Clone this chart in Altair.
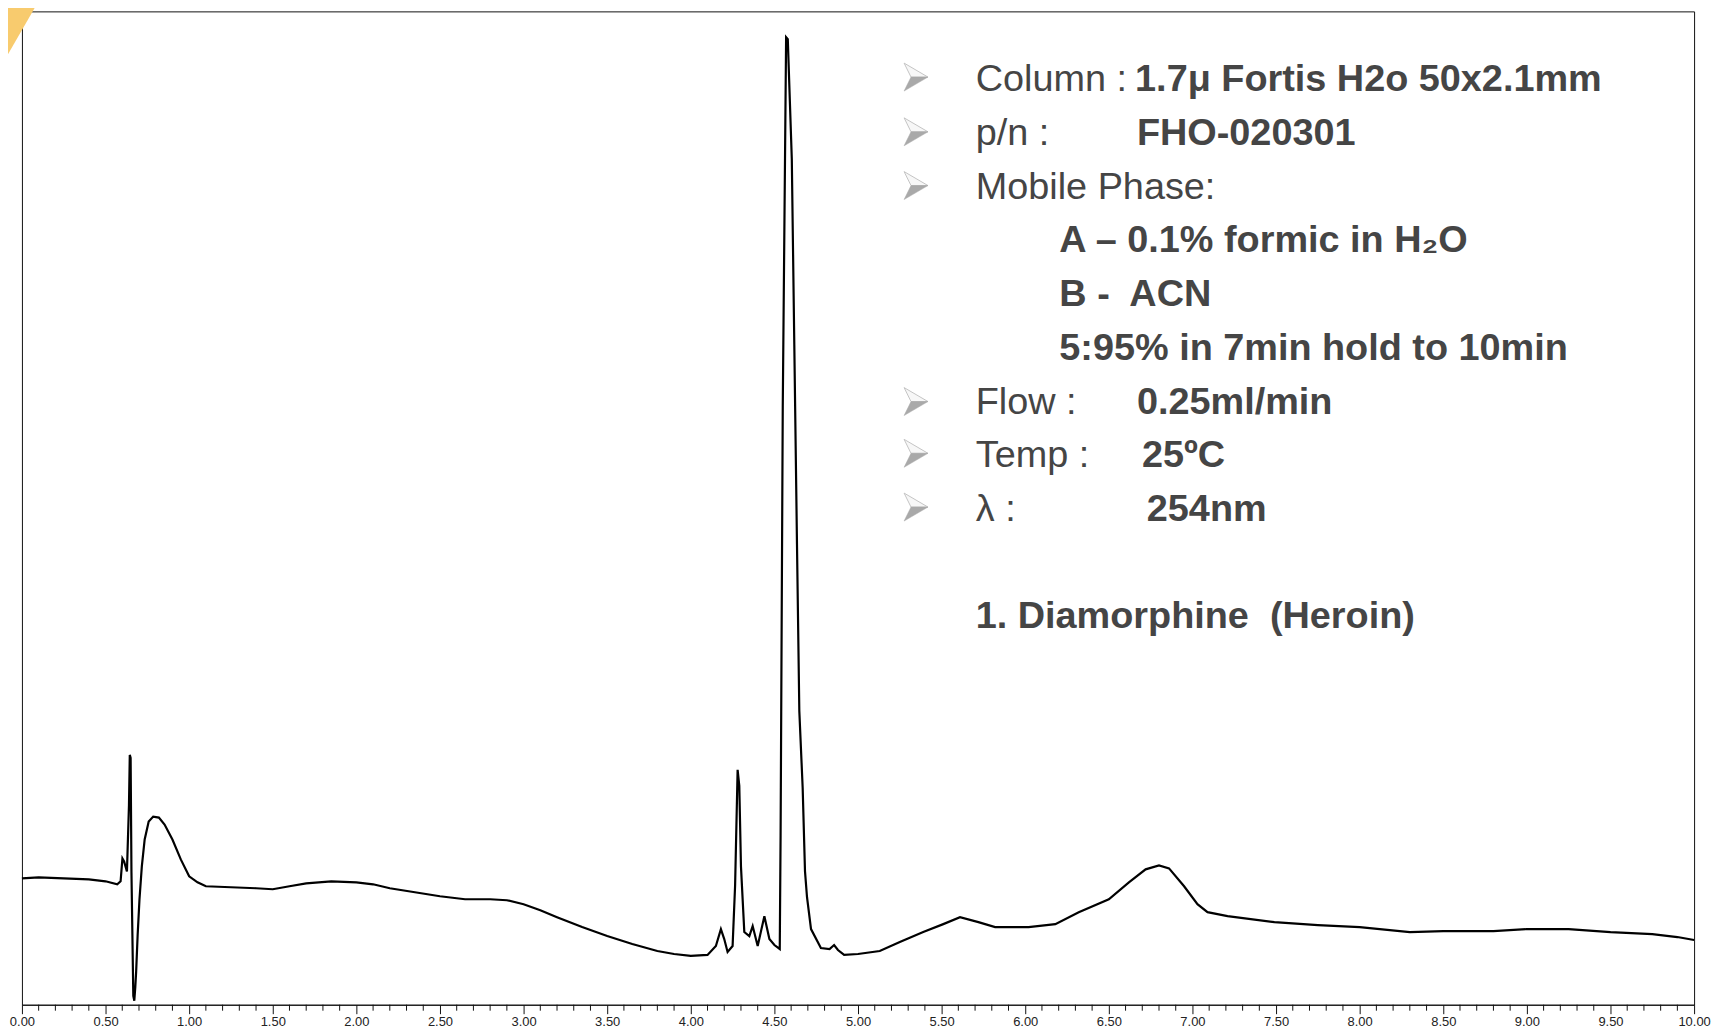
import altair as alt
import pandas as pd

# ---- chromatogram trace (time in min, detector signal in arbitrary units) ----
time_min = [
    0.00, 0.10, 0.25, 0.40, 0.50, 0.570, 0.590, 0.601, 0.611, 0.628, 0.640, 0.645, 0.650, 0.655,
    0.666, 0.672, 0.678, 0.683, 0.692, 0.703, 0.717, 0.734, 0.758, 0.785, 0.819, 0.853, 0.90,
    0.95, 1.00, 1.05, 1.10, 1.25, 1.40, 1.50, 1.60, 1.70, 1.85, 2.00, 2.10, 2.20, 2.35, 2.50,
    2.65, 2.80, 2.90, 3.00, 3.10, 3.20, 3.35, 3.50, 3.65, 3.80, 3.90, 4.00, 4.10, 4.15, 4.18,
    4.20, 4.22, 4.25, 4.265, 4.28, 4.29, 4.30, 4.32, 4.35, 4.37, 4.40, 4.44, 4.47, 4.50, 4.532,
    4.537, 4.550, 4.570, 4.580, 4.604, 4.619, 4.635, 4.649, 4.669, 4.683, 4.695, 4.719, 4.778,
    4.83, 4.857, 4.88, 4.917, 5.00, 5.13, 5.25, 5.39, 5.51, 5.61, 5.72, 5.82, 6.02, 6.18, 6.32,
    6.50, 6.62, 6.72, 6.80, 6.86, 6.95, 7.03, 7.09, 7.21, 7.49, 7.75, 8.00, 8.30, 8.50, 8.80,
    9.00, 9.25, 9.50, 9.75, 9.90, 10.00,
]
signal = [
    127, 128, 127, 126, 124, 121, 124, 147, 144, 134, 200, 251, 248, 133,
    9, 4, 18, 33, 70, 106, 139, 166, 184, 189, 188, 181, 166,
    146, 129, 123, 119, 118, 117, 116, 119, 122, 124, 123, 121, 117, 113, 109,
    106, 106, 105, 101, 95, 88, 78, 69, 61, 54, 51, 49, 50, 59, 76,
    66, 53, 59, 120, 236, 220, 139, 73, 69, 79, 59, 89, 66, 60, 56,
    170, 602, 972, 970, 850, 663, 463, 295, 218, 134, 108, 76, 57,
    56, 60, 55, 50, 51, 54, 63, 73, 81, 88, 83, 78, 78, 81, 93,
    106, 123, 136, 140, 137, 119, 101, 93, 89, 83, 80, 78, 73, 74, 74,
    76, 76, 73, 71, 68, 65,
]

# ---- axis ticks ----
major_ticks = [round(i * 0.5, 2) for i in range(21)]
minor_ticks = [round(i * 0.1, 2) for i in range(101) if i % 5 != 0]

# ---- annotation texts ----
regular_texts = ["Column :", "p/n :", "Mobile Phase:", "Flow :", "Temp :", "λ :"]
regular_x = [5.704, 5.704, 5.704, 5.704, 5.704, 5.704]
regular_y = [918, 864, 810, 594, 540, 486]

bold_texts = [
    "1.7μ Fortis H2o 50x2.1mm",
    "FHO-020301",
    "A – 0.1% formic in H₂O",
    "B -\u00a0 ACN",
    "5:95% in 7min hold to 10min",
    "0.25ml/min",
    "25ºC",
    "254nm",
    "1. Diamorphine\u00a0 (Heroin)",
]
bold_x = [6.657, 6.668, 6.204, 6.204, 6.204, 6.668, 6.698, 6.727, 5.704]
bold_y = [918, 864, 756, 702, 648, 594, 540, 486, 378]

bullet_y = [932, 877, 823, 606, 554, 500]
bullet_x = [5.347] * len(bullet_y)

FONT = "Liberation Sans, Arial, sans-serif"

trace_df = pd.DataFrame({"t": time_min, "s": signal})
reg_df = pd.DataFrame({"t": regular_x, "s": regular_y, "label": regular_texts})
bold_df = pd.DataFrame({"t": bold_x, "s": bold_y, "label": bold_texts})
bul_df = pd.DataFrame({"t": bullet_x, "s": bullet_y})
minor_df = pd.DataFrame({"t": minor_ticks})
corner_df = pd.DataFrame({"k": [0]})

xscale = alt.Scale(domain=[0, 10], nice=False, zero=False)
yscale = alt.Scale(domain=[0, 998], nice=False, zero=False)

x_axis = alt.Axis(
    values=major_ticks, format=".2f", tickSize=9, tickColor="#111", domainColor="#111",
    labelFont=FONT, labelFontSize=13, labelColor="#222", labelPadding=2, grid=False,
    title=None, labelFlush=False, tickWidth=1, domainWidth=1,
)

corner = alt.Chart(corner_df).mark_point(
    shape="M-1,-1L-0.05,-1L-1,0.65Z", filled=True, color="#F8CB6E", opacity=1, size=6400,
    strokeWidth=0,
).encode(x=alt.value(18), y=alt.value(31))

line = alt.Chart(trace_df).mark_line(color="#000", strokeWidth=2.2).encode(
    x=alt.X("t:Q", scale=xscale, axis=x_axis),
    y=alt.Y("s:Q", scale=yscale, axis=None),
)

minor = alt.Chart(minor_df).mark_rule(color="#111", strokeWidth=1).encode(
    x=alt.X("t:Q", scale=xscale),
    y=alt.value(998),
    y2=alt.value(1004),
)

regular = alt.Chart(reg_df).mark_text(
    font=FONT, fontSize=38, color="#454545", align="left", baseline="alphabetic",
).encode(x=alt.X("t:Q", scale=xscale), y=alt.Y("s:Q", scale=yscale), text="label:N")

bold = alt.Chart(bold_df).mark_text(
    font=FONT, fontSize=38, fontWeight="bold", color="#454545", align="left",
    baseline="alphabetic",
).encode(x=alt.X("t:Q", scale=xscale), y=alt.Y("s:Q", scale=yscale), text="label:N")

# 3-D arrowhead bullets: light outlined upper half, grey lower half
bullet_top = alt.Chart(bul_df).mark_point(
    shape="M-1,-1.17L1,0L-0.42,0Z", filled=True, fill="#f7f7f7", stroke="#c4c4c4",
    strokeWidth=1, opacity=1, size=576,
).encode(x=alt.X("t:Q", scale=xscale), y=alt.Y("s:Q", scale=yscale))

bullet_bottom = alt.Chart(bul_df).mark_point(
    shape="M-0.42,0L1,0L-1,1.17Z", filled=True, fill="#a9a9a9", stroke="#a9a9a9",
    strokeWidth=0.5, opacity=1, size=576,
).encode(x=alt.X("t:Q", scale=xscale), y=alt.Y("s:Q", scale=yscale))

chart = alt.layer(
    corner, line, minor, regular, bold, bullet_top, bullet_bottom
).properties(
    width=1680,
    height=998,
    background="white",
    autosize=alt.AutoSizeParams(type="none"),
    padding={"left": 14, "top": 1, "right": 20, "bottom": 26},
).configure_view(stroke="#111", strokeWidth=1)

chart.save("out.html", embed_options={"renderer": "svg", "actions": False})
